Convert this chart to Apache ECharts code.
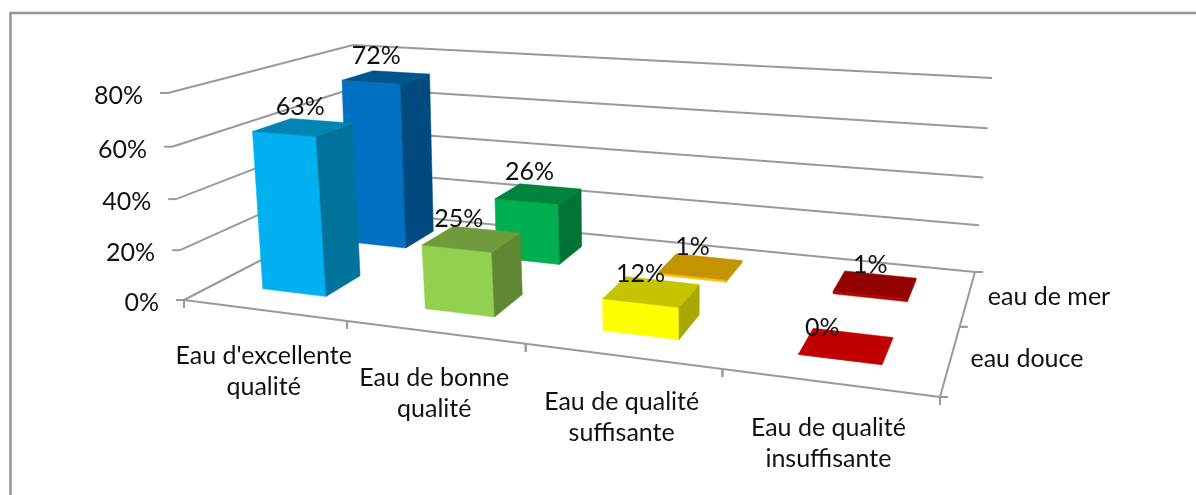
<!DOCTYPE html>
<html>
<head>
<meta charset="utf-8">
<title>Qualité des eaux</title>
<script src="https://cdn.jsdelivr.net/npm/echarts@6/dist/echarts.min.js"></script>
<style>
html, body { margin: 0; padding: 0; background: #fff; }
#main { width: 1196px; height: 495px; }
</style>
</head>
<body>
<div id="main"></div>
<script>
// data
const categories = ["Eau d'excellente\nqualité", "Eau de bonne\nqualité", "Eau de qualité\nsuffisante", "Eau de qualité\ninsuffisante"];
const depthNames = ["eau douce", "eau de mer"];
const eauDouce = [0.63, 0.25, 0.12, 0];
const eauDeMer = [0.72, 0.26, 0.01, 0.01];
const yTicks = [0, 0.2, 0.4, 0.6, 0.8];

// colours per bar: front, side, top
const douceColors = [
  ["#00B0F0", "#00739D", "#0084B4"],
  ["#92D050", "#5F8734", "#6E9C3C"],
  ["#FFFF00", "#A8A800", "#C4C400"],
  ["#C00000", "#C00000", "#C00000"],
];
const merColors = [
  ["#0070C0", "#004A80", "#00558F"],
  ["#00B050", "#007434", "#00843C"],
  ["#FFC000", "#C49400", "#C49400"],
  ["#C00000", "#930000", "#930000"],
];

// layout of the 3D box, in pixels: front-left, front-right, back-right, back-left
const floorQuad = [[184, 300], [940, 397], [975, 272], [356, 211]];
const topQuad = [[168, 93], [961, 150], [992, 78], [353, 45]];
const barWidth = 0.4;
const barDepth = 0.4;
const depthShift = 0.01;
const heightBend = 0.05;
const font = "Lato";
const fontSize = 25;
const gridColor = "#9a9a9a";
// small shift of the value labels, by depth row then category
const labelShift = [
  [[-3, -20], [-13, -20], [-11, -18], [-24, -18]],
  [[-10, -21], [-9, -22], [-8, -20], [-5, -20]],
];

// unit square -> quad
function quadMap(q) {
  const [p0, p1, p2, p3] = q;
  const dx1 = p1[0] - p2[0], dx2 = p3[0] - p2[0], sx = p0[0] - p1[0] + p2[0] - p3[0];
  const dy1 = p1[1] - p2[1], dy2 = p3[1] - p2[1], sy = p0[1] - p1[1] + p2[1] - p3[1];
  const det = dx1 * dy2 - dx2 * dy1;
  const g = (sx * dy2 - dx2 * sy) / det;
  const h = (dx1 * sy - sx * dy1) / det;
  const a = p1[0] - p0[0] + g * p1[0], b = p3[0] - p0[0] + h * p3[0], c = p0[0];
  const d = p1[1] - p0[1] + g * p1[1], e = p3[1] - p0[1] + h * p3[1], f = p0[1];
  return function (u, w) {
    const n = g * u + h * w + 1;
    return [(a * u + b * w + c) / n, (d * u + e * w + f) / n];
  };
}
const floorMap = quadMap(floorQuad);
const topMap = quadMap(topQuad);

// u along categories, w along depth, v height (all 0..1)
function project(u, w, v) {
  const a = floorMap(u, w), b = topMap(u, w);
  const t = v - heightBend * v * (1 - v); // slight perspective on the height too
  return [a[0] + (b[0] - a[0]) * t, a[1] + (b[1] - a[1]) * t];
}

// read u and v from the hidden cartesian axes
function toUnit(params, api, cat, val) {
  const cs = params.coordSys;
  const p = api.coord([cat, val]);
  return [(p[0] - cs.x) / cs.width, (cs.y + cs.height - p[1]) / cs.height];
}

function poly(points, fill) {
  return { type: "polygon", shape: { points: points }, style: { fill: fill, stroke: fill, lineWidth: 0.5 } };
}
function line(a, b) {
  return {
    type: "line",
    shape: { x1: a[0], y1: a[1], x2: b[0], y2: b[1] },
    style: { stroke: gridColor, lineWidth: 2, fill: null },
  };
}
function text(str, x, y, align) {
  return {
    type: "text",
    style: {
      text: str, x: x, y: y, fill: "#111",
      fontFamily: font, fontSize: fontSize, lineHeight: 31,
      align: align || "center", verticalAlign: "middle",
    },
  };
}

function barSeries(name, values, colors, row) {
  return {
    type: "custom",
    name: name,
    z: row === 1 ? 3 : 4,
    coordinateSystem: "cartesian2d",
    data: values.map((v, i) => [i, v]),
    clip: false,
    renderItem: function (params, api) {
      const cat = api.value(0), val = api.value(1);
      const c = toUnit(params, api, cat, val);
      const w = (row + 0.5) / depthNames.length + depthShift;
      const halfU = barWidth / categories.length / 2;
      const halfW = barDepth / depthNames.length / 2;
      const u0 = c[0] - halfU, u1 = c[0] + halfU, w0 = w - halfW, w1 = w + halfW, v = c[1];
      const col = colors[cat];
      const fb0 = project(u0, w0, 0), fb1 = project(u1, w0, 0), bb1 = project(u1, w1, 0);
      const ft0 = project(u0, w0, v), ft1 = project(u1, w0, v), bt1 = project(u1, w1, v), bt0 = project(u0, w1, v);
      const topMid = project(c[0], w, v);
      const shift = labelShift[row][cat];
      return {
        type: "group",
        children: [
          poly([fb0, fb1, ft1, ft0], col[0]),
          poly([fb1, bb1, bt1, ft1], col[1]),
          poly([ft0, ft1, bt1, bt0], col[2]),
          text(Math.round(val * 100) + "%", topMid[0] + shift[0], topMid[1] + shift[1]),
        ],
      };
    },
  };
}

const chart = echarts.init(document.getElementById("main"));

chart.setOption({
  backgroundColor: "#fff",
  animation: false,
  tooltip: { show: false },
  grid: { left: 0, right: 0, top: 0, bottom: 0 },
  xAxis: { type: "category", data: categories, show: false },
  yAxis: { type: "value", min: 0, max: 0.8, interval: 0.2, show: false, splitLine: { show: false } },
  graphic: [
    {
      type: "polyline",
      shape: { points: [[10.5, 495], [10.5, 13], [1196, 13]] },
      style: { fill: null, stroke: "#959595", lineWidth: 2.5 },
      silent: true,
    },
  ],
  series: [
    {
      // walls, gridlines and value axis
      type: "custom",
      name: "grille",
      z: 2,
      coordinateSystem: "cartesian2d",
      data: yTicks.map((t) => [0, t]),
      clip: false,
      renderItem: function (params, api) {
        const v = toUnit(params, api, 0, api.value(1))[1];
        const fl = project(0, 0, v), bl = project(0, 1, v), br = project(1, 1, v);
        return {
          type: "group",
          children: [
            line(fl, bl),
            line(bl, br),
            line(fl, [fl[0] - 8, fl[1]]),
            text(Math.round(api.value(1) * 100) + "%", fl[0] - 25, fl[1] + 3, "right"),
          ],
        };
      },
    },
    {
      // category axis on the front edge
      type: "custom",
      name: "categories",
      z: 2,
      coordinateSystem: "cartesian2d",
      data: categories.map((c, i) => [i, 0]),
      clip: false,
      renderItem: function (params, api) {
        const i = api.value(0);
        const u = toUnit(params, api, i, 0)[0];
        const half = 0.5 / categories.length;
        const a = project(u - half, 0, 0), b = project(u + half, 0, 0), mid = project(u, 0, 0);
        return {
          type: "group",
          children: [
            line(a, b),
            line(a, [a[0], a[1] + 8]),
            line(b, [b[0], b[1] + 8]),
            text(categories[i], mid[0], mid[1] + 61),
          ],
        };
      },
    },
    {
      // depth axis on the right edge
      type: "custom",
      name: "profondeur",
      z: 2,
      coordinateSystem: "cartesian2d",
      data: depthNames.map((d, i) => [0, 0, i]),
      clip: false,
      renderItem: function (params, api) {
        const i = api.value(2);
        const n = depthNames.length;
        const a = project(1, i / n, 0), b = project(1, (i + 1) / n, 0), mid = project(1, (i + 0.5) / n, 0);
        return {
          type: "group",
          children: [
            line(a, b),
            line(a, [a[0] + 8, a[1]]),
            line(b, [b[0] + 8, b[1]]),
            text(depthNames[i], mid[0] + 20, mid[1] - 1, "left"),
          ],
        };
      },
    },
    barSeries("eau de mer", eauDeMer, merColors, 1),
    barSeries("eau douce", eauDouce, douceColors, 0),
  ],
});
</script>
</body>
</html>
